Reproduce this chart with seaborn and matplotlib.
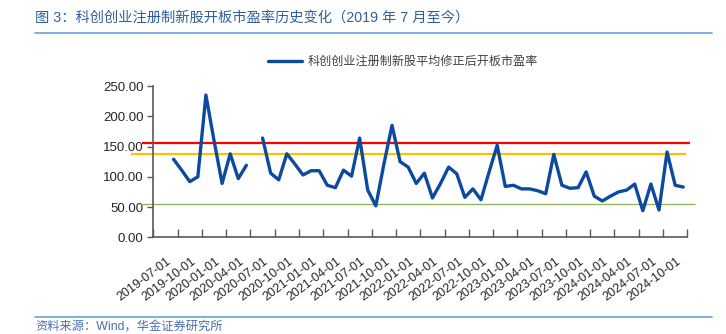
import numpy as np
import pandas as pd
import matplotlib
matplotlib.use("Agg")
import matplotlib.pyplot as plt
import seaborn as sns
from matplotlib.lines import Line2D
from matplotlib.ticker import FixedLocator, FuncFormatter

# ---------------- data ----------------
dates = pd.date_range("2019-07-01", "2024-10-01", freq="MS")
pe_values = [
    129, 111, 92, 100, 235, 160, 89, 138, 97, 119, np.nan, 164,   # 2019-07 .. 2020-06
    106, 95, 138, 121, 103, 110, 110, 86, 82, 111, 101, 164,      # 2020-07 .. 2021-06
    78, 52, 121, 185, 125, 116, 89, 106, 65, 89, 116, 105,        # 2021-07 .. 2022-06
    66, 80, 62, 108, 152, 84, 86, 80, 80, 77, 72, 137,            # 2022-07 .. 2023-06
    86, 81, 82, 108, 68, 60, 68, 75, 78, 88, 44, 88,              # 2023-07 .. 2024-06
    45, 141, 86, 83,                                              # 2024-07 .. 2024-10
]
tick_labels = [d.strftime("%Y-%m-%d") for d in dates[::3]]
ref_values = [155, 137, 55]          # red, orange, green reference lines
series_label = "科创创业注册制新股平均修正后开板市盈率"
title = "图 3：科创创业注册制新股开板市盈率历史变化（2019 年 7 月至今）"
source = "资料来源：Wind，华金证券研究所"

# ---------------- style ----------------
sns.set_theme(style="white")
plt.rcParams["font.family"] = ["Liberation Sans", "Noto Sans CJK SC", "DejaVu Sans"]

BLUE = "#0B4A9E"
REF_COLORS = ["#FF0000", "#FFC000", "#8DB255"]
REF_WIDTHS = [1.6, 1.6, 0.9]
REF_EXTENTS = [(-3.9, 63.8), (-5.2, 63.4), (-4.3, 64.5)]
AXIS_COLOR = "#595959"

fig = plt.figure(figsize=(7.26, 3.34), dpi=100)
ax = fig.add_axes([0.2112, 0.2895, 0.7355, 0.4530])

pos = np.arange(len(pe_values))
vals = np.array(pe_values, dtype=float)
seg = np.cumsum(np.isnan(vals))
df = pd.DataFrame({"pos": pos, "pe": vals, "seg": seg}).dropna()

# reference lines
for v, c, w, (x0, x1) in zip(ref_values, REF_COLORS, REF_WIDTHS, REF_EXTENTS):
    ax.hlines(v, x0, x1, colors=c, linewidth=w, clip_on=False, zorder=2)

sns.lineplot(data=df, x="pos", y="pe", units="seg", estimator=None,
             color=BLUE, linewidth=2.4, ax=ax, legend=False, zorder=3)

ax.set_xlim(-2.5, len(pe_values) - 0.5)
ax.set_ylim(0, 250)
ax.set_xlabel("")
ax.set_ylabel("")

# y axis
ax.set_yticks(np.arange(0, 251, 50))
ax.yaxis.set_major_formatter(FuncFormatter(lambda v, p: f"{v:.2f}"))
ax.tick_params(axis="y", which="major", direction="out", length=4, width=1,
               color=AXIS_COLOR, labelsize=9.5, labelcolor="#262626", pad=3, left=True)

# x axis: tick marks at group boundaries, labels at quarter months
ax.xaxis.set_major_locator(FixedLocator(np.arange(-2.5, len(pe_values), 3)))
ax.xaxis.set_major_formatter(FuncFormatter(lambda v, p: ""))
ax.xaxis.set_minor_locator(FixedLocator(pos[::3]))
ax.set_xticklabels(tick_labels, minor=True, rotation=37, ha="right", va="top",
                   fontsize=9, color="#262626")
ax.tick_params(axis="x", which="major", direction="in", length=6, width=1,
               color=AXIS_COLOR, bottom=True)
ax.tick_params(axis="x", which="minor", length=0, pad=13, bottom=True)

for s in ["top", "right"]:
    ax.spines[s].set_visible(False)
for s in ["left", "bottom"]:
    ax.spines[s].set_color(AXIS_COLOR)
    ax.spines[s].set_linewidth(1.2)

# legend
handle = Line2D([0], [0], color=BLUE, linewidth=2.4)
fig.legend(handles=[handle], labels=[series_label], loc="center left",
           bbox_to_anchor=(268 / 726, 1 - 62 / 334), frameon=False, fontsize=8.7,
           handlelength=2.8, handletextpad=0.45, borderpad=0, borderaxespad=0,
           labelcolor="#404040")

# title, rules, source
fig.text(35 / 726, 1 - 18 / 334, title, fontsize=10.3, color="#2F5F9E",
         ha="left", va="center")
fig.add_artist(Line2D([35 / 726, 712 / 726], [1 - 33 / 334] * 2,
                      transform=fig.transFigure, color="#6A9FD4", linewidth=1.2))
fig.add_artist(Line2D([35 / 726, 712 / 726], [1 - 316.5 / 334] * 2,
                      transform=fig.transFigure, color="#6A9FD4", linewidth=1.2))
fig.text(35 / 726, 1 - 328 / 334, source, fontsize=8.8, color="#4A6FA8",
         ha="left", va="center")

fig.savefig("out.png", dpi=100)
